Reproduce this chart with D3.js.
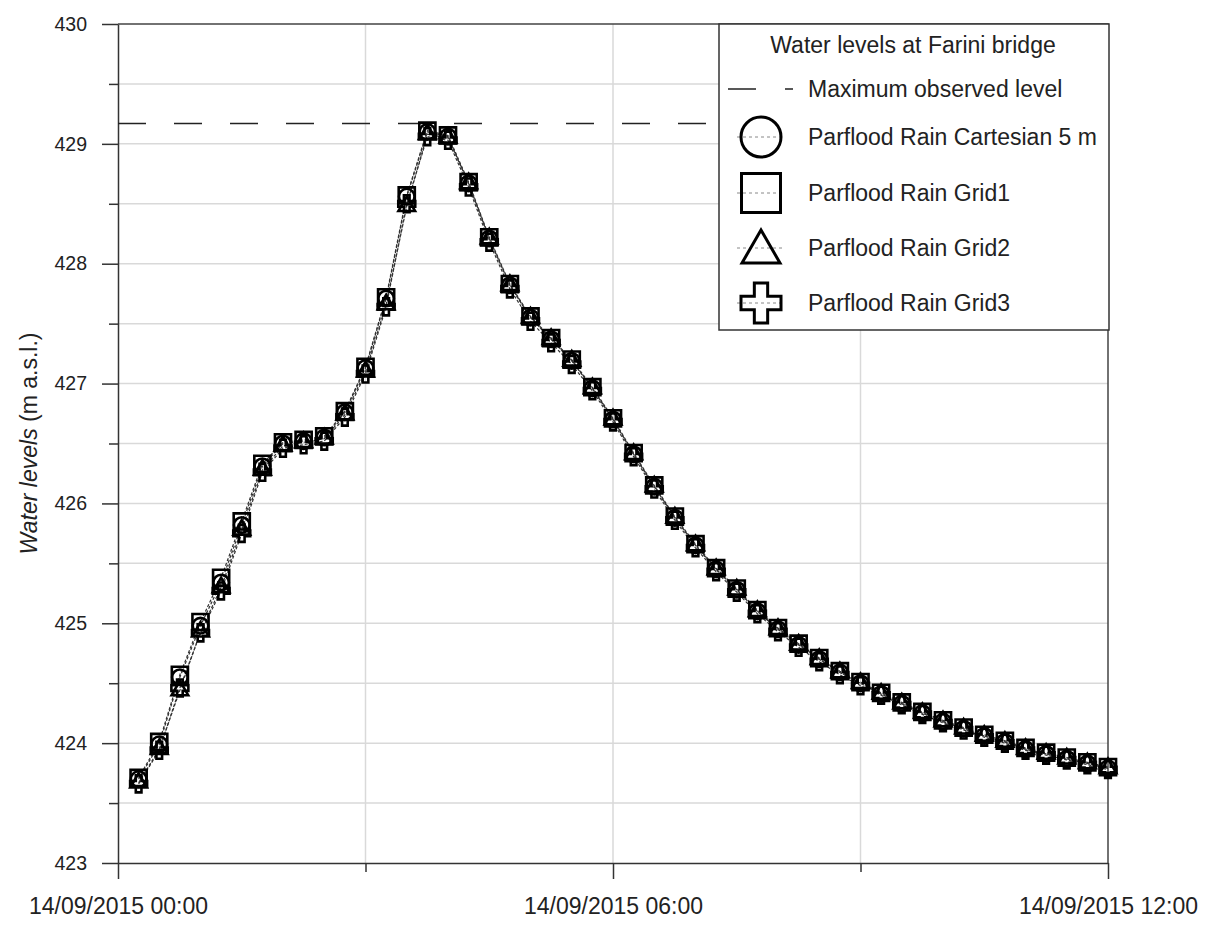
<!DOCTYPE html>
<html>
<head>
<meta charset="utf-8">
<script src="https://cdn.jsdelivr.net/npm/d3@7"></script>
<style>
body { margin: 0; background: #fff; }
text { font-family: "Liberation Sans", Arial, sans-serif; fill: #222; }
.grid line { stroke: #d9d9d9; stroke-width: 1.5; }
.axis path, .axis line { stroke: #333; stroke-width: 1.5; }
.axis text { fill: #222; }
</style>
</head>
<body>
<script>
//hardcoded parameters
var svg_width = 1218;
var svg_height = 938;
var graph_x = 118;
var graph_y = 24;
var graph_width = 990;
var graph_height = 839;

//data, times on 14/09/2015
var day = '14/09/2015 ';
var times = [
    '00:15','00:30','00:45','01:00','01:15','01:30','01:45','02:00',
    '02:15','02:30','02:45','03:00','03:15','03:30','03:45','04:00',
    '04:15','04:30','04:45','05:00','05:15','05:30','05:45','06:00',
    '06:15','06:30','06:45','07:00','07:15','07:30','07:45','08:00',
    '08:15','08:30','08:45','09:00','09:15','09:30','09:45','10:00',
    '10:15','10:30','10:45','11:00','11:15','11:30','11:45','12:00'
];
var cartesian = [
    423.70, 423.99, 424.55, 424.98, 425.34, 425.82, 426.31, 426.50,
    426.52, 426.55, 426.76, 427.13, 427.71, 428.56, 429.10, 429.06,
    428.67, 428.21, 427.82, 427.55, 427.37, 427.19, 426.96, 426.70,
    426.41, 426.14, 425.88, 425.65, 425.45, 425.28, 425.10, 424.95,
    424.82, 424.70, 424.59, 424.50, 424.41, 424.33, 424.25, 424.18,
    424.12, 424.06, 424.01, 423.95, 423.91, 423.87, 423.83, 423.79
];
var grid1 = [
    423.71, 424.01, 424.57, 425.01, 425.38, 425.85, 426.33, 426.51,
    426.53, 426.56, 426.77, 427.14, 427.72, 428.57, 429.11, 429.07,
    428.68, 428.22, 427.83, 427.56, 427.38, 427.20, 426.97, 426.71,
    426.42, 426.15, 425.89, 425.66, 425.46, 425.29, 425.11, 424.96,
    424.83, 424.71, 424.60, 424.51, 424.42, 424.34, 424.26, 424.19,
    424.13, 424.07, 424.02, 423.96, 423.92, 423.88, 423.84, 423.80
];
var grid2 = [
    423.67, 423.95, 424.44, 424.93, 425.30, 425.78, 426.28, 426.48,
    426.51, 426.54, 426.74, 427.10, 427.66, 428.48, 429.08, 429.05,
    428.67, 428.21, 427.82, 427.55, 427.37, 427.19, 426.96, 426.70,
    426.41, 426.14, 425.88, 425.65, 425.45, 425.28, 425.10, 424.95,
    424.82, 424.70, 424.59, 424.50, 424.41, 424.33, 424.25, 424.18,
    424.12, 424.06, 424.01, 423.95, 423.91, 423.87, 423.83, 423.79
];
var grid3 = [
    423.66, 423.94, 424.46, 424.92, 425.27, 425.75, 426.26, 426.46,
    426.49, 426.52, 426.72, 427.08, 427.64, 428.50, 429.06, 429.03,
    428.64, 428.18, 427.79, 427.52, 427.34, 427.16, 426.94, 426.68,
    426.39, 426.12, 425.86, 425.63, 425.43, 425.26, 425.08, 424.93,
    424.80, 424.68, 424.57, 424.48, 424.40, 424.32, 424.24, 424.17,
    424.11, 424.05, 424.00, 423.94, 423.90, 423.86, 423.82, 423.78
];
var max_observed = 429.17;
var x_major = ['00:00', '06:00', '12:00'];
var x_minor = ['03:00', '09:00'];
var y_major = [423, 424, 425, 426, 427, 428, 429, 430];
var y_minor = [423.5, 424.5, 425.5, 426.5, 427.5, 428.5, 429.5];
var y_grid = [423.5, 424, 424.5, 425, 425.5, 426, 426.5, 427, 427.5, 428, 428.5, 429, 429.5];

var series = [
    {'name': 'Parflood Rain Cartesian 5 m', 'values': cartesian, 'symbol': d3.symbolCircle,   'size': 190, 'legend_size': 1257},
    {'name': 'Parflood Rain Grid1',         'values': grid1,     'symbol': d3.symbolSquare,   'size': 260, 'legend_size': 1521},
    {'name': 'Parflood Rain Grid2',         'values': grid2,     'symbol': d3.symbolTriangle, 'size': 120, 'legend_size': 625},
    {'name': 'Parflood Rain Grid3',         'values': grid3,     'symbol': d3.symbolCross,    'size': 160, 'legend_size': 889}
];

var parse = d3.timeParse('%d/%m/%Y %H:%M');
var format = d3.timeFormat('%d/%m/%Y %H:%M');

//svg
var svg = d3.select('body').append('svg')
    .attr('width', svg_width)
    .attr('height', svg_height);

var graph = svg.append('g')
    .attr('transform', 'translate(' + graph_x + ',' + graph_y + ')');

//scales
var scale_x = d3.scaleTime()
    .domain([parse(day + '00:00'), parse(day + '12:00')])
    .range([0, graph_width]);
var scale_y = d3.scaleLinear()
    .domain([423, 430])
    .range([graph_height, 0]);

//grid
graph.append('g').classed('grid', true)
    .selectAll('line').data(y_grid).enter().append('line')
    .attr('x1', 0).attr('x2', graph_width)
    .attr('y1', function(d) { return scale_y(d); })
    .attr('y2', function(d) { return scale_y(d); });
graph.append('g').classed('grid', true)
    .selectAll('line').data(['03:00', '06:00', '09:00']).enter().append('line')
    .attr('x1', function(d) { return scale_x(parse(day + d)); })
    .attr('x2', function(d) { return scale_x(parse(day + d)); })
    .attr('y1', 0).attr('y2', graph_height);

//frame top and right
graph.append('path')
    .attr('d', 'M0,' + scale_y(430) + 'H' + graph_width + 'V' + graph_height)
    .attr('fill', 'none').attr('stroke', '#444').attr('stroke-width', 1.5);

//axes
var axis_y = d3.axisLeft(scale_y).tickValues(y_major).tickSize(16).tickSizeOuter(0).tickPadding(15).tickFormat(d3.format('d'));
graph.append('g').classed('axis', true).call(axis_y)
    .selectAll('text').style('font-size', '19.5px');
graph.append('g').classed('axis', true)
    .call(d3.axisLeft(scale_y).tickValues(y_minor).tickSize(9).tickSizeOuter(0).tickFormat(''))
    .select('.domain').remove();

var axis_x = d3.axisBottom(scale_x)
    .tickValues(x_major.map(function(t) { return parse(day + t); }))
    .tickSize(16).tickSizeOuter(0).tickPadding(19).tickFormat(format);
graph.append('g').classed('axis', true)
    .attr('transform', 'translate(0,' + graph_height + ')')
    .call(axis_x)
    .selectAll('text').style('font-size', '23px');
graph.append('g').classed('axis', true)
    .attr('transform', 'translate(0,' + graph_height + ')')
    .call(d3.axisBottom(scale_x)
        .tickValues(x_minor.map(function(t) { return parse(day + t); }))
        .tickSize(9).tickSizeOuter(0).tickFormat(''))
    .select('.domain').remove();

//y title
var y_title = svg.append('text')
    .attr('transform', 'translate(29,' + (graph_y + graph_height / 2) + ') rotate(-90)')
    .attr('text-anchor', 'middle')
    .attr('dy', '0.35em')
    .style('font-size', '23px');
y_title.append('tspan').style('font-style', 'italic').text('Water levels');
y_title.append('tspan').text(' (m a.s.l.)');

//maximum observed level
graph.append('line')
    .attr('x1', 0).attr('x2', graph_width)
    .attr('y1', scale_y(max_observed)).attr('y2', scale_y(max_observed))
    .attr('stroke', '#222').attr('stroke-width', 1.3)
    .attr('stroke-dasharray', '28,28');

//series lines
var line = d3.line()
    .x(function(d, i) { return scale_x(parse(day + times[i])); })
    .y(function(d) { return scale_y(d); });
series.forEach(function(s) {
    graph.append('path')
        .attr('d', line(s.values))
        .attr('fill', 'none')
        .attr('stroke', '#333')
        .attr('stroke-width', 1.2)
        .attr('stroke-dasharray', '3,2');
});

//series markers
series.forEach(function(s) {
    graph.append('g').selectAll('path').data(s.values).enter().append('path')
        .attr('transform', function(d, i) {
            return 'translate(' + scale_x(parse(day + times[i])) + ',' + scale_y(d) + ')';
        })
        .attr('d', d3.symbol().type(s.symbol).size(s.size))
        .attr('fill', 'none')
        .attr('stroke', '#000')
        .attr('stroke-width', 2.6);
});

//legend
var key = svg.append('g').attr('id', 'key');
key.append('rect')
    .attr('x', 719).attr('y', 24).attr('width', 390).attr('height', 306)
    .attr('fill', '#fff').attr('stroke', '#333').attr('stroke-width', 1.5);
key.append('text')
    .attr('x', 913).attr('y', 53)
    .attr('text-anchor', 'middle')
    .style('font-size', '23px')
    .text('Water levels at Farini bridge');
key.append('line')
    .attr('x1', 728).attr('x2', 793).attr('y1', 89).attr('y2', 89)
    .attr('stroke', '#222').attr('stroke-width', 1.3)
    .attr('stroke-dasharray', '28,29');
key.append('text')
    .attr('x', 808).attr('y', 97)
    .style('font-size', '23px')
    .text('Maximum observed level');

var key_rows = [137, 193, 248, 303];
var key_dy = [0, 0, 4, 0];
series.forEach(function(s, i) {
    key.append('line')
        .attr('x1', 737).attr('x2', 784).attr('y1', key_rows[i]).attr('y2', key_rows[i])
        .attr('stroke', '#888').attr('stroke-width', 1)
        .attr('stroke-dasharray', '3,3');
    key.append('path')
        .attr('transform', 'translate(761,' + (key_rows[i] + key_dy[i]) + ')')
        .attr('d', d3.symbol().type(s.symbol).size(s.legend_size))
        .attr('fill', 'none')
        .attr('stroke', '#000')
        .attr('stroke-width', 3);
    key.append('text')
        .attr('x', 808).attr('y', key_rows[i] + 8)
        .style('font-size', '23px')
        .text(s.name);
});
</script>
</body>
</html>
